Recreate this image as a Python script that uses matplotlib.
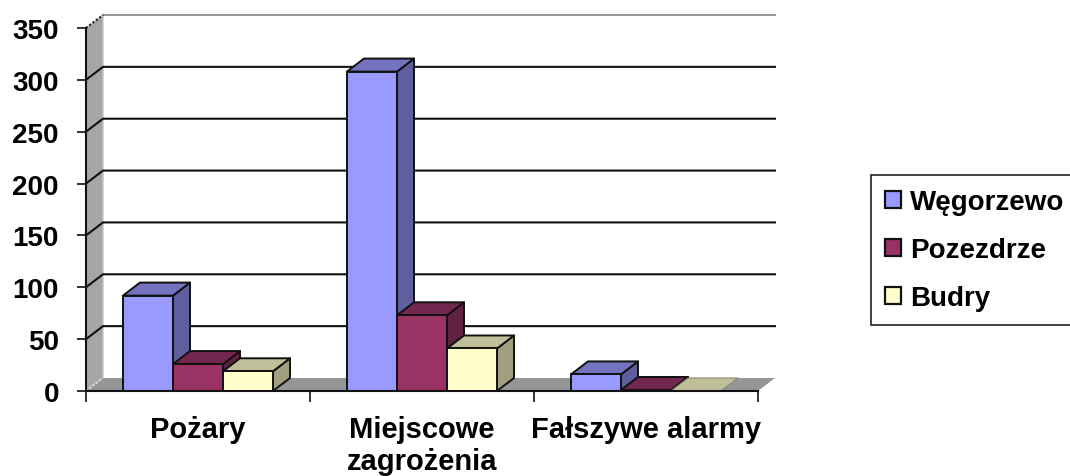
import matplotlib
matplotlib.use("Agg")
import matplotlib.pyplot as plt
from matplotlib.patches import Polygon, Patch

categories = ["Pożary", "Miejscowe\nzagrożenia", "Fałszywe alarmy"]
series_names = ["Węgorzewo", "Pozezdrze", "Budry"]
wegorzewo = [92, 308, 16]
pozezdrze = [26, 73, 1]
budry = [19, 41, 0]
y_ticks = [0, 50, 100, 150, 200, 250, 300, 350]

front = ["#9999FF", "#993366", "#FFFFCC"]
top = ["#7373BF", "#732650", "#BFBF99"]
side = ["#5F5FA0", "#602040", "#A0A080"]

W, H = 1070, 477
plt.rcParams["font.family"] = ["Liberation Sans", "DejaVu Sans"]
fig = plt.figure(figsize=(W / 100, H / 100), dpi=100)
ax = fig.add_axes([86 / W, 1 - 392 / H, 672 / W, 363 / H])
ax.set_xlim(0, 3)
ax.set_ylim(0, 350)

dx = 17 / 224
dy = 13 * 350 / 363
bw = 50 / 224
gap = 37 / 224

# walls and floor
ax.add_patch(Polygon([(0, 0), (dx, dy), (dx, 350 + dy), (0, 350)], closed=True,
                     fc="#A6A6A6", ec="#C4C4C4", lw=1, clip_on=False, zorder=1))
ax.add_patch(Polygon([(0, 0), (dx, dy), (3 + dx, dy), (3, 0)], closed=True,
                     fc="#969696", ec="none", clip_on=False, zorder=1))

# gridlines
for v in y_ticks[1:-1]:
    ax.plot([0, dx, 3 + dx], [v, v + dy, v + dy], color="#111111", lw=1.5,
            clip_on=False, zorder=2, solid_joinstyle="miter")
ax.plot([dx, 3 + dx], [350 + dy, 350 + dy], color="#999999", lw=1.5, clip_on=False, zorder=2)
ax.plot([0, dx], [350, 350 + dy], color="#222222", lw=1.5, ls=(0, (1, 1)), clip_on=False, zorder=2)
ax.plot([0, dx], [0, dy], color="#DDDDDD", lw=1.5, ls=(0, (1, 1)), clip_on=False, zorder=2)

# bars
z = 3
for c in range(3):
    for s, vals in enumerate([wegorzewo, pozezdrze, budry]):
        v = vals[c]
        x0 = c + gap + s * bw
        x1 = x0 + bw
        ec = "#111111" if v > 0 else "#8A8A70"
        lw = 1.4 if v > 0 else 0.8
        ax.add_patch(Polygon([(x1, 0), (x1 + dx, dy), (x1 + dx, v + dy), (x1, v)], closed=True,
                             fc=side[s], ec=ec, lw=lw, clip_on=False, zorder=z, joinstyle="round"))
        ax.add_patch(Polygon([(x0, v), (x1, v), (x1 + dx, v + dy), (x0 + dx, v + dy)], closed=True,
                             fc=top[s], ec=ec, lw=lw, clip_on=False, zorder=z, joinstyle="round"))
        ax.bar(x0, v, width=bw, align="edge", color=front[s], edgecolor="#111111" if v > 0 else "none",
               linewidth=1.4, clip_on=False, zorder=z)
        z += 1

for name in ("top", "right"):
    ax.spines[name].set_visible(False)
for name in ("left", "bottom"):
    ax.spines[name].set_linewidth(1.5)
    ax.spines[name].set_color("#111111")
    ax.spines[name].set_zorder(40)

ax.set_yticks(y_ticks)
ax.tick_params(axis="y", length=6.5, width=1.2, pad=13, labelsize=20, color="#111111")
for t in ax.get_yticklabels():
    t.set_fontweight("bold")
ax.set_xticks([0, 1, 2, 3])
ax.set_xticklabels([])
ax.set_xticks([0.5, 1.5, 2.5], minor=True)
ax.set_xticklabels(categories, minor=True, fontsize=21, fontweight="bold", linespacing=1.22)
ax.tick_params(axis="x", which="major", length=8, width=1.2, color="#111111")
ax.tick_params(axis="x", which="minor", length=0, pad=17)

handles = [Patch(fc=front[i], ec="#111111", lw=1.6) for i in range(3)]
leg = ax.legend(handles, series_names, loc="upper left",
                bbox_to_anchor=(871 / W, 1 - 176 / H), bbox_transform=fig.transFigure,
                borderaxespad=0, frameon=True, fancybox=False, framealpha=1,
                edgecolor="#222222", handlelength=0.57, handleheight=0.57, handletextpad=0.35,
                labelspacing=0.8, borderpad=0.5, prop={"weight": "bold", "size": 20})
leg.get_frame().set_linewidth(1.2)

fig.savefig("out.png", dpi=100)
